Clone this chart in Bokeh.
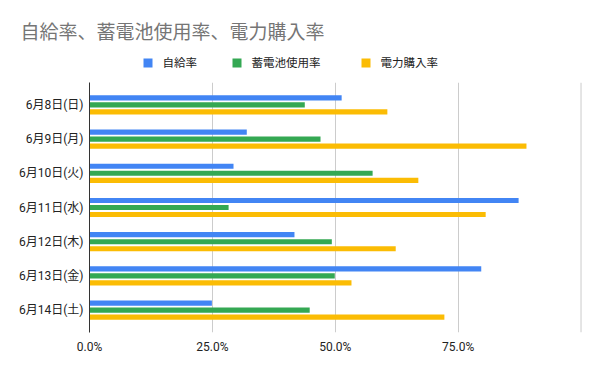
from bokeh.plotting import figure
from bokeh.layouts import column
from bokeh.models import (ColumnDataSource, FactorRange, Range1d, FixedTicker, PrintfTickFormatter, Span)
from bokeh.core.properties import value
from bokeh.transform import dodge
from bokeh.embed import file_html
from bokeh.resources import INLINE

days = ["6月8日(日)", "6月9日(月)", "6月10日(火)", "6月11日(水)", "6月12日(木)", "6月13日(金)", "6月14日(土)"]
self_rate = [51.3, 32.0, 29.3, 87.3, 41.7, 79.7, 24.9]
battery_rate = [43.8, 47.0, 57.6, 28.3, 49.3, 49.9, 44.8]
purchase_rate = [60.6, 88.9, 66.9, 80.6, 62.3, 53.3, 72.2]
series_names = ["自給率", "蓄電池使用率", "電力購入率"]
x_ticks = [0, 25, 50, 75]
title_text = "自給率、蓄電池使用率、電力購入率"

colors = ["#4285F4", "#34A853", "#FBBC04"]
FONT = "Roboto, 'Noto Sans CJK JP'"

W = 600
HEAD_H = 82
MAIN_H = 371 - HEAD_H

# ---------- header: title + legend ----------
head = figure(width=W, height=HEAD_H, output_backend="svg", toolbar_location=None,
              x_range=Range1d(0, W), y_range=Range1d(HEAD_H, 0),
              x_axis_type=None, y_axis_type=None, min_border=0)
head.frame_align = False
head.outline_line_color = None
head.xgrid.visible = False
head.ygrid.visible = False

head.text(x=[20], y=[32], text=[title_text], text_font=value(FONT), text_font_size="19px",
          text_color="#757575", text_baseline="middle", text_align="left")

legend_x = [143, 232, 361]   # layout positions of the legend swatches
legend_y = 62.5
head.rect(x=[lx + 4.5 for lx in legend_x], y=[legend_y] * 3, width=9, height=9,
          fill_color=colors, line_color=None)
head.text(x=[lx + 19 for lx in legend_x], y=[legend_y] * 3, text=series_names,
          text_font=value(FONT), text_font_size="11.5px", text_color="#222222",
          text_baseline="middle", text_align="left")

# ---------- main chart ----------
src = ColumnDataSource(dict(day=days, a=self_rate, b=battery_rate, c=purchase_rate))

p = figure(width=W, height=MAIN_H, output_backend="svg", toolbar_location=None,
           y_range=FactorRange(factors=list(reversed(days)), range_padding=0.0443),
           x_range=Range1d(0, 100.3),
           min_border_left=89, min_border_right=18, min_border_top=0, min_border_bottom=39)
p.frame_align = False
p.outline_line_color = None

offs = [0.205, 0.0, -0.205]
for col, off, c in zip(["a", "b", "c"], offs, colors):
    p.hbar(y=dodge("day", off, range=p.y_range), right=col, left=0, height=0.15,
           source=src, fill_color=c, line_color=None)

p.xaxis.ticker = FixedTicker(ticks=x_ticks)
p.xaxis.formatter = PrintfTickFormatter(format="%.1f%%")
p.xaxis.axis_line_color = None
p.xaxis.major_tick_line_color = None
p.xaxis.minor_tick_line_color = None
p.xaxis.major_tick_out = 0
p.xaxis.major_label_text_font = FONT
p.xaxis.major_label_text_font_size = "12px"
p.xaxis.major_label_text_color = "#222222"
p.xaxis.major_label_standoff = 7

p.yaxis.axis_line_color = "#333333"
p.yaxis.major_tick_line_color = None
p.yaxis.minor_tick_line_color = None
p.yaxis.major_tick_out = 0
p.yaxis.major_label_text_font = FONT
p.yaxis.major_label_text_font_size = "12px"
p.yaxis.major_label_text_color = "#222222"
p.yaxis.major_label_standoff = 6

p.ygrid.grid_line_color = None
p.xgrid.grid_line_color = "#cccccc"
p.xgrid.ticker = FixedTicker(ticks=[25, 50, 75])
p.add_layout(Span(location=100, dimension="height", line_color="#cccccc", line_width=1))

layout = column(head, p, spacing=0)
open("out.html", "w").write(file_html(layout, INLINE))
